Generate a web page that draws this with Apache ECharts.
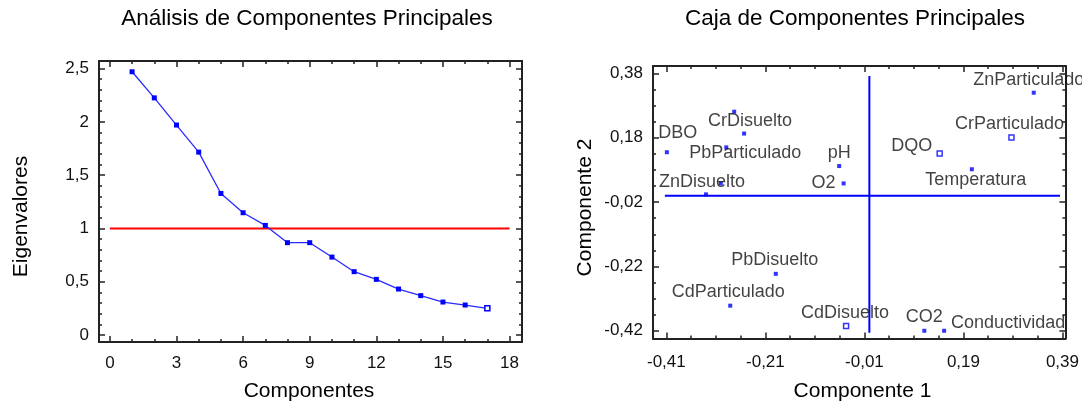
<!DOCTYPE html>
<html>
<head>
<meta charset="utf-8">
<script src="https://cdn.jsdelivr.net/npm/echarts@6/dist/echarts.min.js"></script>
<style>
html,body{margin:0;padding:0;background:#ffffff;}
#chart{width:1082px;height:403px;}
</style>
</head>
<body>
<div id="chart"></div>
<script>
// ================= DATA =================
// Left chart: scree plot
const components = [1, 2, 3, 4, 5, 6, 7, 8, 9, 10, 11, 12, 13, 14, 15, 16, 17];
const eigenvalues = [2.47, 2.225, 1.97, 1.716, 1.328, 1.147, 1.028, 0.866, 0.866, 0.731, 0.594, 0.522, 0.431, 0.369, 0.309, 0.281, 0.25];
const thresholdX = [0, 18];
const thresholdY = [1, 1];
const leftXTicks = [0, 3, 6, 9, 12, 15, 18];
const leftYTicks = [0, 0.5, 1, 1.5, 2, 2.5];

// Right chart: component box (loadings)
const variableNames = ['DBO', '', 'CrDisuelto', 'PbParticulado', '', 'ZnDisuelto', 'pH', 'O2', 'CdDisuelto',
  'DQO', 'Temperatura', 'CrParticulado', 'ZnParticulado', 'PbDisuelto', 'CdParticulado', 'CO2', 'Conductividad'];
const component1 = [-0.409, -0.273, -0.253, -0.289, -0.300, -0.330, -0.061, -0.052, -0.047,
  0.142, 0.207, 0.287, 0.332, -0.189, -0.281, 0.111, 0.151];
const component2 = [0.135, 0.261, 0.193, 0.150, 0.038, 0.004, 0.092, 0.038, -0.405,
  0.131, 0.082, 0.181, 0.320, -0.243, -0.342, -0.420, -0.420];
const rightXTicks = [-0.41, -0.21, -0.01, 0.19, 0.39];
const rightYTicks = [-0.42, -0.22, -0.02, 0.18, 0.38];
const crossHX = [-0.413, 0.385];
const crossHY = [0, 0];
const crossVX = [0, 0];
const crossVY = [-0.426, 0.372];

// ================= STYLE =================
const FONT = '"Liberation Sans", Arial, sans-serif';
const AXIS_COLOR = '#222';
const BLUE = '#0000ff';
const hollowNames = ['CdDisuelto', 'DQO', 'CrParticulado'];
const labelOffsets = {
  'ZnParticulado': [-5, -13], 'CrParticulado': [-2, -13], 'DQO': [-28, -7], 'Temperatura': [4, 11],
  'pH': [0, -13], 'O2': [-20, 0], 'DBO': [11, -19], 'CrDisuelto': [6, -13], 'PbParticulado': [19, 6],
  'ZnDisuelto': [-4, -12], 'PbDisuelto': [-1, -14], 'CdParticulado': [-2, -14], 'CdDisuelto': [-1, -13],
  'CO2': [0, -14], 'Conductividad': [64, -8]
};

function subdivide(majors, parts) {
  const out = [];
  for (let i = 0; i < majors.length - 1; i++) {
    const a = majors[i], b = majors[i + 1];
    for (let k = 0; k < parts; k++) out.push(Math.round((a + (b - a) * k / parts) * 10000) / 10000);
  }
  out.push(majors[majors.length - 1]);
  return out;
}
function fmt(v) {
  return String(Math.round(v * 100) / 100).replace('.', ',');
}

function makeAxes(gridIndex, dim, min, max, majors, minors, labelMargin) {
  const posA = dim === 'x' ? 'bottom' : 'left';
  const posB = dim === 'x' ? 'top' : 'right';
  const lineStyle = { color: AXIS_COLOR, width: 2 };
  const tickStyle = { color: AXIS_COLOR, width: 1.5 };
  const base = () => ({
    gridIndex: gridIndex, type: 'value', min: min, max: max,
    splitLine: { show: false },
    axisLine: { show: false, onZero: false },
    axisLabel: { show: false },
    axisTick: { show: false }
  });
  const a1 = base();
  a1.position = posA;
  a1.axisLine = { show: true, onZero: false, lineStyle: lineStyle };
  a1.axisTick = { show: true, inside: true, length: 6, customValues: majors, lineStyle: tickStyle };
  a1.axisLabel = { show: true, customValues: majors, formatter: fmt, margin: labelMargin,
    fontFamily: FONT, fontSize: 17, color: '#111' };
  const a2 = base();
  a2.position = posA;
  a2.axisTick = { show: true, inside: true, length: 3, customValues: minors, lineStyle: tickStyle };
  const a3 = base();
  a3.position = posB;
  a3.axisLine = { show: true, onZero: false, lineStyle: lineStyle };
  a3.axisTick = { show: true, inside: true, length: 6, customValues: majors, lineStyle: tickStyle };
  const a4 = base();
  a4.position = posB;
  a4.axisTick = { show: true, inside: true, length: 3, customValues: minors, lineStyle: tickStyle };
  return [a1, a2, a3, a4];
}

const xAxes = makeAxes(0, 'x', -0.49, 18.56, leftXTicks, subdivide(leftXTicks, 3), 13)
  .concat(makeAxes(1, 'x', -0.437, 0.396, rightXTicks, subdivide(rightXTicks, 4), 15));
const yAxes = makeAxes(0, 'y', -0.066, 2.571, leftYTicks, subdivide(leftYTicks, 5), 10)
  .concat(makeAxes(1, 'y', -0.444, 0.403, rightYTicks, subdivide(rightYTicks, 4), 10));

const screeData = components.map((c, i) => {
  const d = { value: [c, eigenvalues[i]] };
  if (i === components.length - 1) d.itemStyle = { color: '#fff', borderColor: BLUE, borderWidth: 1.5 };
  return d;
});

const scatterData = variableNames.map((n, i) => {
  const hollow = hollowNames.indexOf(n) >= 0;
  const d = { name: n, value: [component1[i], component2[i]] };
  d.symbolSize = hollow ? 5 : 4;
  d.itemStyle = hollow ? { color: '#fff', borderColor: BLUE, borderWidth: 1.5 } : { color: BLUE };
  d.label = { show: n !== '', offset: labelOffsets[n] || [0, 0] };
  return d;
});

function txt(x, y, text, size, rot) {
  return {
    type: 'text', x: x, y: y, rotation: rot || 0, silent: true,
    style: { text: text, fontFamily: FONT, fontSize: size, fill: '#000', align: 'center', verticalAlign: 'middle' }
  };
}

const option = {
  animation: false,
  backgroundColor: '#ffffff',
  grid: [
    { left: 99, right: 560, top: 61, bottom: 61, containLabel: false },
    { left: 653, right: 13, top: 66, bottom: 64.5, containLabel: false }
  ],
  xAxis: xAxes,
  yAxis: yAxes,
  graphic: [
    txt(307, 19, 'Análisis de Componentes Principales', 22.5),
    txt(855, 19, 'Caja de Componentes Principales', 22.5),
    txt(21, 216.5, 'Eigenvalores', 21, Math.PI / 2),
    txt(309, 391.7, 'Componentes', 21),
    txt(585, 207.5, 'Componente 2', 21, Math.PI / 2),
    txt(862.5, 391.7, 'Componente 1', 21)
  ],
  series: [
    {
      type: 'line', xAxisIndex: 0, yAxisIndex: 0, silent: true,
      data: thresholdX.map((x, i) => [x, thresholdY[i]]),
      symbol: 'none', lineStyle: { color: '#ff0000', width: 2 }, z: 2
    },
    {
      type: 'line', xAxisIndex: 0, yAxisIndex: 0, silent: true,
      data: screeData, symbol: 'rect', symbolSize: 5,
      itemStyle: { color: BLUE }, lineStyle: { color: '#2a2aff', width: 1.3 }, z: 3
    },
    {
      type: 'line', xAxisIndex: 4, yAxisIndex: 4, silent: true,
      data: crossHX.map((x, i) => [x, crossHY[i]]),
      symbol: 'none', lineStyle: { color: BLUE, width: 2 }, z: 2
    },
    {
      type: 'line', xAxisIndex: 4, yAxisIndex: 4, silent: true,
      data: crossVX.map((x, i) => [x, crossVY[i]]),
      symbol: 'none', lineStyle: { color: BLUE, width: 2 }, z: 2
    },
    {
      type: 'scatter', xAxisIndex: 4, yAxisIndex: 4, silent: true,
      data: scatterData, symbol: 'rect', clip: false,
      label: { show: true, position: 'inside', formatter: '{b}', fontFamily: FONT, fontSize: 18, color: '#111' },
      z: 4
    }
  ]
};

const chart = echarts.init(document.getElementById('chart'), null, { renderer: 'canvas' });
chart.setOption(option);
</script>
</body>
</html>
